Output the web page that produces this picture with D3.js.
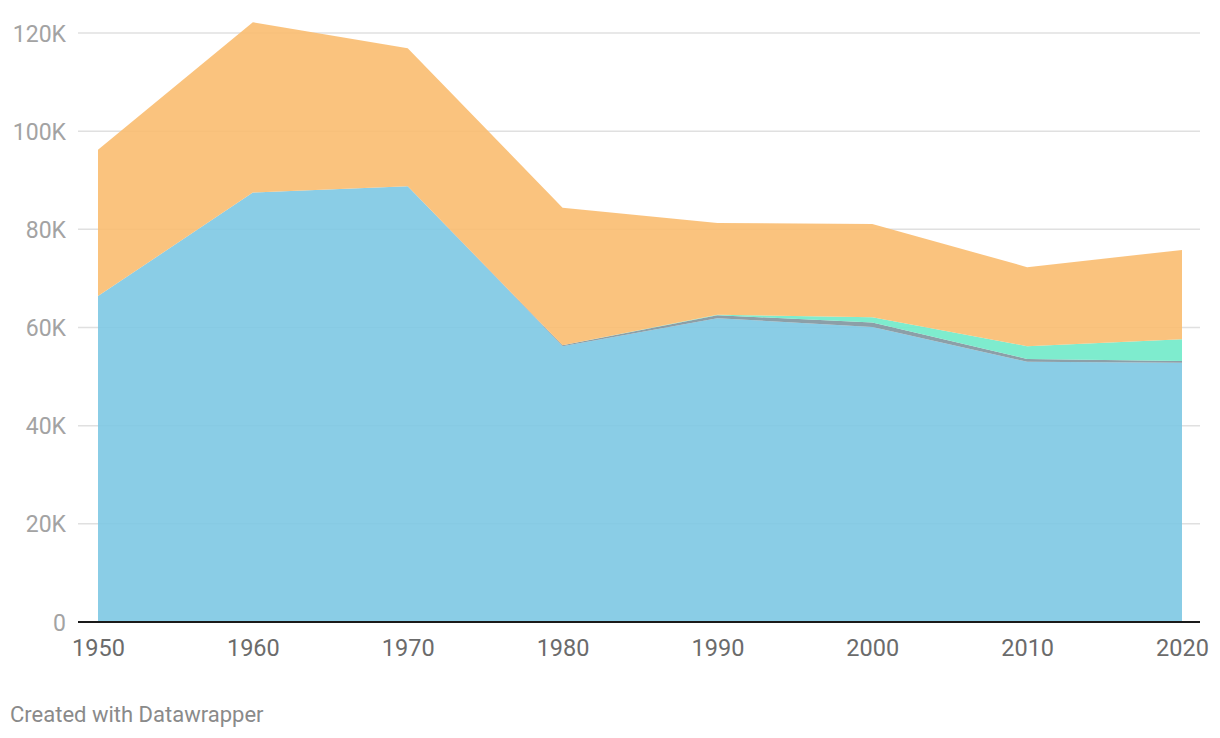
<!DOCTYPE html>
<html>
<head>
<meta charset="utf-8">
<script src="https://cdn.jsdelivr.net/npm/d3@7"></script>
<style>
  body { margin: 0; background: #fff; }
  svg { display: block; font-family: Roboto, "Noto Sans", sans-serif; }
</style>
</head>
<body>
<svg id="chart" width="1220" height="738"></svg>
<script>
// ---- data ----
const years = [1950, 1960, 1970, 1980, 1990, 2000, 2010, 2020];
const seriesBlue   = [66.4, 87.5, 88.8, 56.2, 61.9, 60.1, 53.0, 52.8];
const seriesGray   = [0, 0, 0, 0.2, 0.6, 0.9, 0.6, 0.4];
const seriesGreen  = [0, 0, 0, 0, 0.1, 1.1, 2.6, 4.4];
const seriesOrange = [29.8, 34.7, 28.1, 28.0, 18.7, 19.0, 16.1, 18.2];
const seriesNames = ["blue", "gray", "green", "orange"];
const yTicks = [0, 20, 40, 60, 80, 100, 120];
const yTickLabels = ["0", "20K", "40K", "60K", "80K", "100K", "120K"];
const xTickLabels = ["1950", "1960", "1970", "1980", "1990", "2000", "2010", "2020"];
const footerText = "Created with Datawrapper";

const colors = { blue: "#7dc8e3", gray: "#7f959e", green: "#70eac9", orange: "#f9bd70" };

const rows = years.map((y, i) => ({
  year: y, blue: seriesBlue[i], gray: seriesGray[i], green: seriesGreen[i], orange: seriesOrange[i]
}));

const svg = d3.select("#chart");
const x = d3.scaleLinear().domain([1950, 2020]).range([98, 1182]);
const y = d3.scaleLinear().domain([0, 120]).range([622, 33]);

// gridlines
const grid = svg.append("g");
grid.selectAll("line").data(yTicks.filter(d => d > 0)).join("line")
  .attr("x1", 78).attr("x2", 1200)
  .attr("y1", d => y(d)).attr("y2", d => y(d))
  .attr("stroke", "#e0e0e0").attr("stroke-width", 1.5);

// stacked areas
const stack = d3.stack().keys(seriesNames);
const layers = stack(rows);
const area = d3.area()
  .x(d => x(d.data.year))
  .y0(d => y(d[0]))
  .y1(d => y(d[1]));
svg.append("g").selectAll("path").data(layers).join("path")
  .attr("d", area)
  .attr("fill", d => colors[d.key])
  .attr("fill-opacity", 0.9);

// baseline
svg.append("line")
  .attr("x1", 78).attr("x2", 1200)
  .attr("y1", y(0)).attr("y2", y(0))
  .attr("stroke", "#1a1a1a").attr("stroke-width", 2);

// y axis labels
const yAxis = d3.axisLeft(y).tickValues(yTicks).tickFormat((d, i) => yTickLabels[i]).tickSize(0).tickPadding(0);
const gy = svg.append("g").attr("transform", "translate(66,0)").call(yAxis);
gy.select(".domain").remove();
gy.selectAll("text")
  .attr("font-family", "Roboto, sans-serif")
  .attr("font-size", 23)
  .attr("fill", "#a3a3a3")
  .attr("dy", "0.35em");

// x axis labels
const xAxis = d3.axisBottom(x).tickValues(years).tickFormat((d, i) => xTickLabels[i]).tickSize(0).tickPadding(0);
const gx = svg.append("g").attr("transform", "translate(0,656)").call(xAxis);
gx.select(".domain").remove();
gx.selectAll("text")
  .attr("font-family", "Roboto, sans-serif")
  .attr("font-size", 23.5)
  .attr("fill", "#6b6b6b")
  .attr("dy", "0")
  .attr("y", 0);

// footer
svg.append("text")
  .attr("x", 10).attr("y", 722)
  .attr("font-size", 22)
  .attr("fill", "#8a8a8a")
  .text(footerText);
</script>
</body>
</html>
